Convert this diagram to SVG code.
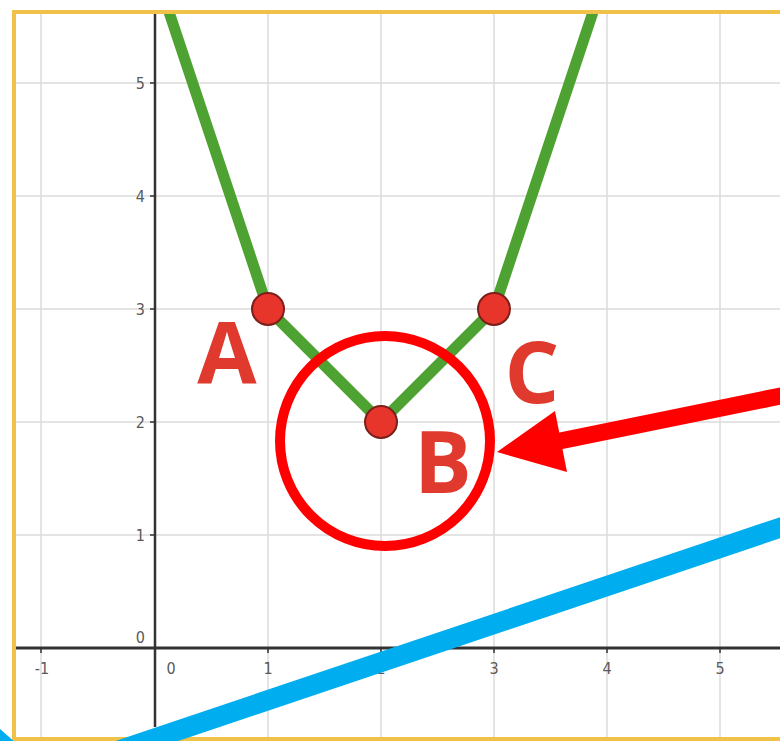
<svg xmlns="http://www.w3.org/2000/svg" width="780" height="741" viewBox="0 0 780 741">
<defs>
<style>
.grid{stroke:#dcdcdc;stroke-width:1.5;fill:none}
.axis{stroke:#333;fill:none}
.tick{font-family:"DejaVu Sans Condensed","DejaVu Sans",sans-serif;font-size:16px;fill:#5a5a5a}
.pt{fill:#e8352b;stroke:#7a1f1a;stroke-width:2}
.lbl{font-family:"Open Sans","Liberation Sans",sans-serif;font-weight:bold;font-size:86px;fill:#e03a2e;text-anchor:middle}
</style>
</defs>
<rect width="780" height="741" fill="#fff"/>
<g id="grid">
<path class="grid" d="M41 14V738M268 14V738M381 14V738M494 14V738M607 14V738M720 14V738M16 83H780M16 196H780M16 309H780M16 422H780M16 535H780"/>
</g>
<g id="axes">
<line class="axis" x1="155" y1="12" x2="155" y2="727" stroke-width="2.5"/>
<line class="axis" x1="14" y1="648" x2="780" y2="648" stroke-width="3"/>
<path class="axis" stroke-width="1.5" d="M41 648v5M268 648v5M381 648v5M494 648v5M607 648v5M720 648v5M150 83h5M150 196h5M150 309h5M150 422h5M150 535h5"/>
<g class="tick">
<text x="145" y="89" text-anchor="end">5</text>
<text x="145" y="202" text-anchor="end">4</text>
<text x="145" y="315" text-anchor="end">3</text>
<text x="145" y="428" text-anchor="end">2</text>
<text x="145" y="541" text-anchor="end">1</text>
<text x="145" y="643" text-anchor="end">0</text>
<text x="42" y="674" text-anchor="middle">-1</text>
<text x="171" y="674" text-anchor="middle">0</text>
<text x="268" y="674" text-anchor="middle">1</text>
<text x="381" y="674" text-anchor="middle">2</text>
<text x="494" y="674" text-anchor="middle">3</text>
<text x="607" y="674" text-anchor="middle">4</text>
<text x="720" y="674" text-anchor="middle">5</text>
</g>
</g>
<g id="curve">
<polyline points="169,12 268,309 381,422 494,309 593,12" fill="none" stroke="#4ea232" stroke-width="11" stroke-linejoin="round"/>
</g>
<g id="border">
<rect x="14" y="12" width="800" height="727" fill="none" stroke="#f0c24a" stroke-width="4"/>
</g>
<g id="point-A"><circle class="pt" cx="268" cy="309" r="16"/><text class="lbl" x="227" y="384">A</text></g>
<g id="point-B"><circle class="pt" cx="381" cy="422" r="16"/><text class="lbl" x="443" y="493">B</text></g>
<g id="point-C"><circle class="pt" cx="494" cy="309" r="16"/><text class="lbl" x="532" y="403">C</text></g>
<g id="highlight">
<circle cx="385" cy="441" r="105" fill="none" stroke="#ff0000" stroke-width="10"/>
</g>
<g id="connectors">
<line x1="800" y1="392" x2="555" y2="442" stroke="#ff0000" stroke-width="17"/>
<polygon points="497,452 555,411 567,472" fill="#ff0000"/>
<polyline points="-20,725 40,777 800,521" fill="none" stroke="#00aeef" stroke-width="20" stroke-linejoin="round"/>
</g>
</svg>
